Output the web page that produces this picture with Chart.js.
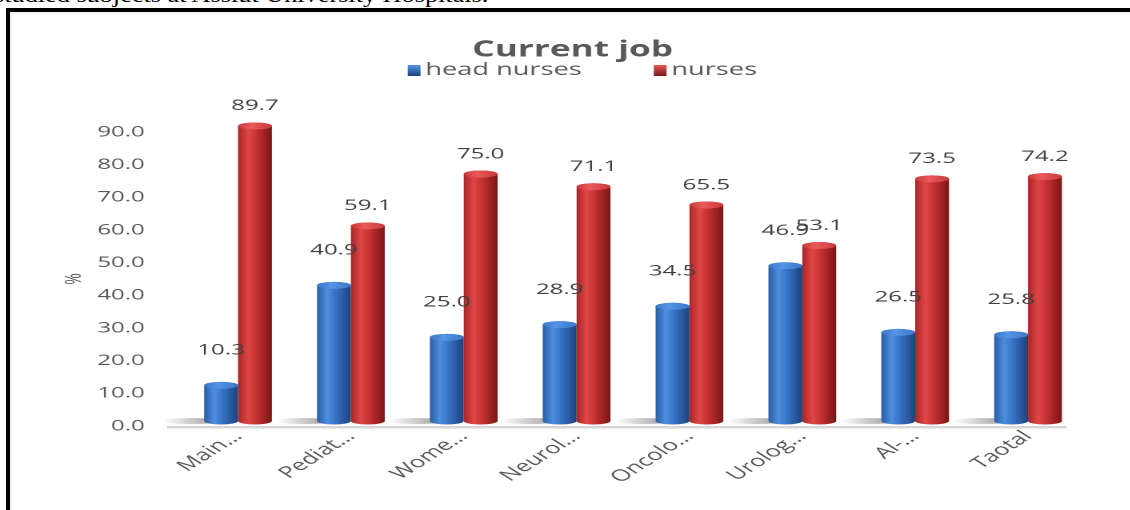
<!DOCTYPE html>
<html>
<head>
<meta charset="utf-8">
<title>Current job</title>
<script src="https://cdn.jsdelivr.net/npm/chart.js@4.4.0/dist/chart.umd.min.js"></script>
<style>
  html, body { margin: 0; padding: 0; background: #fff; width: 1130px; height: 510px; overflow: hidden; }
  #caption {
    position: absolute; left: -6px; top: -15px;
    font-family: "Liberation Serif", "Times New Roman", serif;
    font-size: 21px; line-height: 21px; color: #000; white-space: nowrap;
    transform: scaleX(1.25); transform-origin: 0 0;
  }
  #frame {
    position: absolute; left: 6px; top: 8px; width: 1140px; height: 520px;
    border-left: 4px solid #000; border-top: 4px solid #000;
    box-shadow: inset 2px 2px 0 #f1f1f1;
  }
  /* the chart is laid out narrow and stretched sideways, like the pasted figure */
  #wrap {
    position: absolute; left: 0; top: 0; width: 706.25px; height: 510px;
    transform: scaleX(1.6); transform-origin: 0 0;
  }
</style>
</head>
<body>
<div id="caption">studied subjects at Assiut University Hospitals.</div>
<div id="frame"></div>
<div id="wrap"><canvas id="jobChart"></canvas></div>
<script>
// --- Data ---
const departments = ['Main…', 'Pediat…', 'Wome…', 'Neurol…', 'Oncolo…', 'Urolog…', 'Al-…', 'Taotal'];
const headNurses = [10.3, 40.9, 25.0, 28.9, 34.5, 46.9, 26.5, 25.8];
const nurses = [89.7, 59.1, 75.0, 71.1, 65.5, 53.1, 73.5, 74.2];
const percentTicks = [0, 10, 20, 30, 40, 50, 60, 70, 80, 90];

const FONT = '"Open Sans", "DejaVu Sans", sans-serif';

// --- Cylinder colours ---
const blueCyl = { edge: '#2a5ca3', light: '#4d8fe0', mid: '#3673c4', dark: '#1d427c', cap: '#5595e6', capDark: '#3a78c8' };
const redCyl  = { edge: '#a82727', light: '#e04646', mid: '#c53131', dark: '#7a1616', cap: '#ea5a5a', capDark: '#c93a3a' };

function cylinder(ctx, x, top, bottom, w, ry, c) {
    const l = x - w / 2, r = x + w / 2;
    const g = ctx.createLinearGradient(l, 0, r, 0);
    g.addColorStop(0, c.edge);
    g.addColorStop(0.3, c.light);
    g.addColorStop(0.55, c.mid);
    g.addColorStop(1, c.dark);
    ctx.beginPath();
    ctx.moveTo(l, top);
    ctx.lineTo(l, bottom);
    ctx.ellipse(x, bottom, w / 2, ry, 0, Math.PI, 0, true);
    ctx.lineTo(r, top);
    ctx.ellipse(x, top, w / 2, ry, 0, 0, Math.PI, true);
    ctx.closePath();
    ctx.fillStyle = g;
    ctx.fill();

    const cg = ctx.createLinearGradient(l, 0, r, 0);
    cg.addColorStop(0, c.capDark);
    cg.addColorStop(0.4, c.cap);
    cg.addColorStop(1, c.capDark);
    ctx.beginPath();
    ctx.ellipse(x, top, w / 2, ry, 0, 0, Math.PI * 2);
    ctx.fillStyle = cg;
    ctx.fill();
}

// floor line and soft shadows under the bars
const floorPlugin = {
    id: 'floor',
    beforeDatasetsDraw(chart) {
        const { ctx, chartArea } = chart;
        const y = chart.scales.y.getPixelForValue(0);
        ctx.save();
        ctx.fillStyle = '#d6d6d6';
        ctx.fillRect(chartArea.left - 9, y, chartArea.right - chartArea.left - 2, 2.5);
        const meta = chart.getDatasetMeta(0);
        meta.data.forEach(bar => {
            const l = bar.x - bar.width / 2;
            const g = ctx.createLinearGradient(l - 26, 0, l + 4, 0);
            g.addColorStop(0, 'rgba(0,0,0,0)');
            g.addColorStop(1, 'rgba(0,0,0,0.35)');
            ctx.beginPath();
            ctx.ellipse(l - 8, y - 5, 20, 3, 0, 0, Math.PI * 2);
            ctx.fillStyle = g;
            ctx.fill();
        });
        ctx.restore();
    }
};

// 3D-looking cylinders and value labels
const cylinderPlugin = {
    id: 'cylinders',
    afterDatasetsDraw(chart) {
        const { ctx } = chart;
        ctx.save();
        chart.data.datasets.forEach((ds, di) => {
            const meta = chart.getDatasetMeta(di);
            meta.data.forEach(bar => {
                cylinder(ctx, bar.x, bar.y - 7, bar.base - 5, bar.width, 3.5, ds.cylinder);
            });
        });
        ctx.font = '15px ' + FONT;
        ctx.fillStyle = '#404040';
        ctx.textAlign = 'center';
        ctx.textBaseline = 'middle';
        chart.data.datasets.forEach((ds, di) => {
            const meta = chart.getDatasetMeta(di);
            meta.data.forEach((bar, i) => {
                ctx.fillText(ds.data[i].toFixed(1), bar.x, bar.y - ds.labelOffset);
            });
        });
        ctx.restore();
    }
};

// legend row under the title
const legendPlugin = {
    id: 'legendRow',
    afterDraw(chart) {
        const { ctx } = chart;
        const cx = 364, cy = 70, box = 8, gap = 3, itemGap = 45;
        ctx.save();
        ctx.font = '17px ' + FONT;
        ctx.textBaseline = 'middle';
        const items = chart.data.datasets.map(ds => ({ text: ds.label, c: ds.cylinder, w: ctx.measureText(ds.label).width }));
        let total = 0;
        items.forEach((it, i) => { total += box + gap + it.w + (i < items.length - 1 ? itemGap : 0); });
        let x = cx - total / 2;
        items.forEach(it => {
            const g = ctx.createLinearGradient(0, cy - 5, 0, cy + 6);
            g.addColorStop(0, it.c.cap);
            g.addColorStop(1, it.c.dark);
            ctx.fillStyle = g;
            ctx.fillRect(x, cy - 5, box, 11);
            x += box + gap;
            ctx.fillStyle = '#595959';
            ctx.fillText(it.text, x, cy);
            x += it.w + itemGap;
        });
        ctx.restore();
    }
};

new Chart(document.getElementById('jobChart'), {
    type: 'bar',
    data: {
        labels: departments,
        datasets: [
            { label: 'head nurses', data: headNurses, backgroundColor: 'rgba(0,0,0,0)', borderWidth: 0, cylinder: blueCyl, labelOffset: 42 },
            { label: 'nurses', data: nurses, backgroundColor: 'rgba(0,0,0,0)', borderWidth: 0, cylinder: redCyl, labelOffset: 27 }
        ]
    },
    options: {
        responsive: true,
        maintainAspectRatio: false,
        animation: false,
        devicePixelRatio: 2,
        layout: { padding: { top: 37, left: 38, right: 28.5, bottom: 22 } },
        datasets: { bar: { categoryPercentage: 0.6, barPercentage: 1.0 } },
        plugins: {
            legend: { display: false },
            tooltip: { enabled: false },
            title: {
                display: true,
                text: 'Current job',
                color: '#595959',
                font: { family: FONT, size: 22, weight: 'bold' },
                padding: { top: 0, bottom: 68.6 }
            }
        },
        scales: {
            x: {
                grid: { display: false, drawTicks: false },
                border: { display: false },
                ticks: {
                    color: '#595959',
                    font: { family: FONT, size: 16 },
                    minRotation: 45,
                    maxRotation: 45,
                    autoSkip: false,
                    padding: 1
                }
            },
            y: {
                min: 0,
                max: 90,
                grid: { display: false, drawTicks: false },
                border: { display: false },
                afterBuildTicks: axis => { axis.ticks = percentTicks.map(v => ({ value: v })); },
                afterFit: axis => { axis.width = 75.5; },
                ticks: {
                    color: '#595959',
                    font: { family: FONT, size: 15 },
                    padding: 23,
                    callback: v => Number(v).toFixed(1)
                },
                title: {
                    display: true,
                    text: '%',
                    color: '#595959',
                    font: { family: FONT, size: 14 },
                    padding: { top: 0, bottom: 5 }
                }
            }
        }
    },
    plugins: [floorPlugin, cylinderPlugin, legendPlugin]
});
</script>
</body>
</html>
